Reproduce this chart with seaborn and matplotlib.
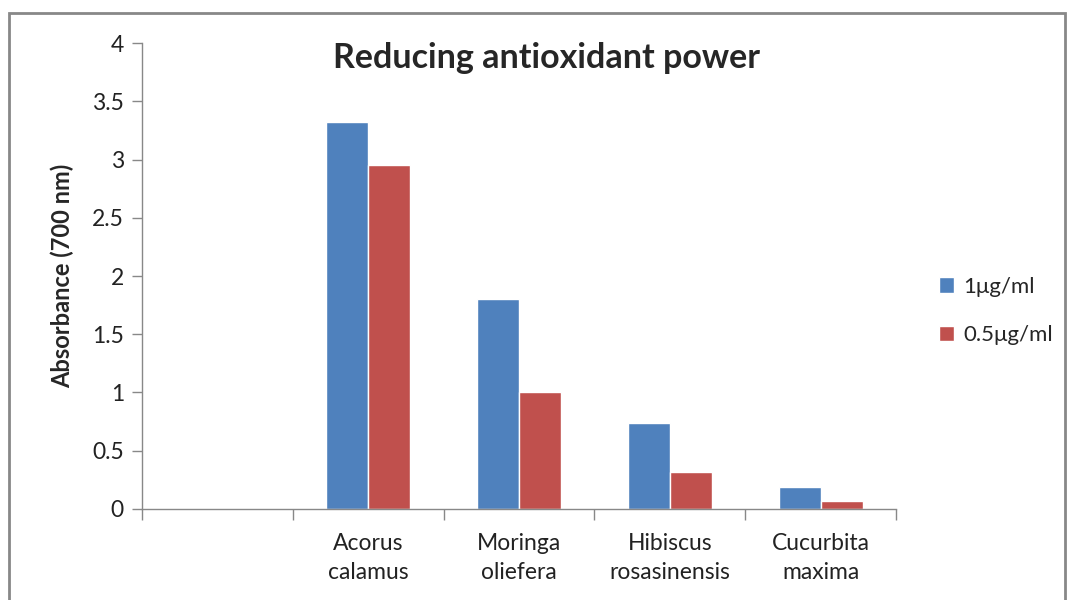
import pandas as pd
import matplotlib.pyplot as plt
import seaborn as sns
from matplotlib.patches import Rectangle
from matplotlib.ticker import FixedLocator, NullFormatter

# -----------------------------
# Data
# -----------------------------
categories = ["", "Acorus\ncalamus", "Moringa\noliefera", "Hibiscus\nrosasinensis", "Cucurbita\nmaxima"]
plants = ["Acorus\ncalamus", "Moringa\noliefera", "Hibiscus\nrosasinensis", "Cucurbita\nmaxima"]
conc_1 = [3.32, 1.80, 0.74, 0.19]
conc_05 = [2.95, 1.00, 0.32, 0.07]
series = ["1μg/ml", "0.5μg/ml"]
colors = ["#4F81BD", "#C0504D"]

df = pd.DataFrame({
    "plant": plants * 2,
    "value": conc_1 + conc_05,
    "conc": [series[0]] * len(plants) + [series[1]] * len(plants),
})

# -----------------------------
# Plot
# -----------------------------
sns.set_style("white")
plt.rcParams["font.family"] = ["Lato", "DejaVu Sans"]

fig = plt.figure(figsize=(10.7, 6), dpi=100)
ax = fig.add_axes([0.1327, 0.1517, 0.7047, 0.7766])

sns.barplot(data=df, x="plant", y="value", hue="conc", order=categories,
            hue_order=series, palette=colors, width=0.556, saturation=1,
            ax=ax, legend=True)

ax.set_ylim(0, 4)
ax.set_xlim(-0.5, len(categories) - 0.5)
ax.set_yticks([0, 0.5, 1, 1.5, 2, 2.5, 3, 3.5, 4])
ax.set_yticklabels(["0", "0.5", "1", "1.5", "2", "2.5", "3", "3.5", "4"], fontsize=16.5, color="#222222")
ax.set_xticks(range(len(categories)))
ax.set_xticklabels(categories, fontsize=16.5, color="#222222", linespacing=1.5)
ax.xaxis.set_minor_locator(FixedLocator([i - 0.5 for i in range(len(categories) + 1)]))
ax.xaxis.set_minor_formatter(NullFormatter())
ax.tick_params(axis="x", which="major", bottom=True, length=0, pad=17)
ax.tick_params(axis="x", which="minor", bottom=True, length=8, width=1, color="#888888", direction="out")
ax.tick_params(axis="y", left=True, length=7, width=1, color="#888888", direction="out", pad=6)

for side in ["top", "right"]:
    ax.spines[side].set_visible(False)
for side in ["left", "bottom"]:
    ax.spines[side].set_color("#888888")
    ax.spines[side].set_linewidth(1)

ax.set_xlabel("")
ax.set_ylabel("Absorbance (700 nm)", fontsize=17, fontweight="bold", labelpad=13)

leg = ax.legend(loc="center left", bbox_to_anchor=(1.03, 0.425), frameon=False,
                fontsize=16, handlelength=0.7, handleheight=0.7,
                handletextpad=0.4, labelspacing=1.3)

fig.text(0.511, 0.903, "Reducing antioxidant power", ha="center", va="center",
         fontsize=24.5, fontweight="bold")

fig.patches.append(Rectangle((0.0084, -0.05), 0.987, 1.028, transform=fig.transFigure,
                             fill=False, edgecolor="#888888", linewidth=2))

plt.savefig("out.png", dpi=100)
plt.close()
